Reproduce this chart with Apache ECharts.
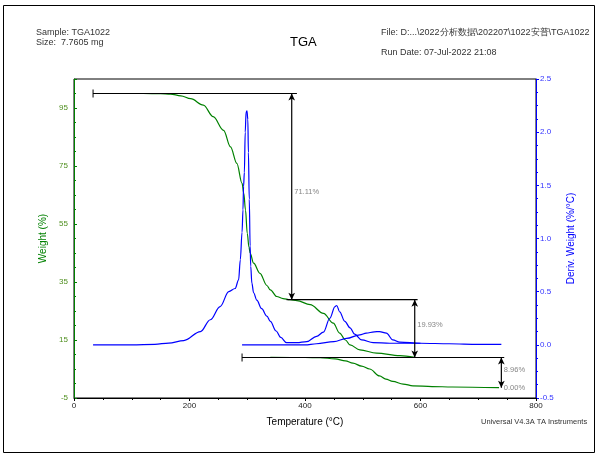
<!DOCTYPE html>
<html>
<head>
<meta charset="utf-8">
<script src="https://cdn.jsdelivr.net/npm/echarts@6/dist/echarts.min.js"></script>
<style>
  html, body { margin: 0; padding: 0; background: #fff; }
  #chart { width: 598px; height: 457px; }
</style>
</head>
<body>
<div id="chart"></div>
<script>
// weight curve, first run (temperature °C / weight %)
const weightTemp1 = [33, 120, 150, 167, 185, 202, 224, 241, 259, 271, 282, 291, 294, 297, 300, 303, 305, 311, 322, 334, 340, 351, 362, 374, 386, 409, 432, 449, 460, 470, 478, 495, 524, 564, 590];
const weightVal1  = [100, 100, 99.95, 99.8, 99.2, 98.2, 96, 92, 87.3, 81.6, 75.9, 69, 65.6, 59.8, 51.8, 47, 45, 41.5, 38, 33.8, 32.3, 30, 29.3, 28.9, 28.6, 27.2, 24.2, 20.8, 17.4, 15, 13.3, 11.6, 10.5, 9.6, 9.0];

// weight curve, second run
const weightTemp2 = [340, 400, 426, 452, 470, 483, 498, 512, 529, 540, 552, 570, 587, 620, 655, 736];
const weightVal2  = [9.0, 8.96, 8.9, 8.5, 7.8, 7.0, 6.0, 5.0, 2.6, 1.5, 0.7, -0.2, -0.8, -1.05, -1.2, -1.45];

// derivative curve, first run (%/°C)
const derivTemp1 = [33, 100, 140, 164, 190, 219, 236, 253, 268, 279, 285, 288, 291, 292.6, 293.6, 295, 296.5, 298, 299.5, 301, 302, 303.5, 305, 306, 308, 311, 316.5, 325, 334, 340, 350, 358, 368, 386, 403, 420, 432, 443, 452, 455, 460, 469, 478, 486, 498, 518, 547, 600];
const derivVal1  = [0, 0, 0.005, 0.016, 0.04, 0.125, 0.236, 0.36, 0.5, 0.53, 0.61, 0.8, 1.06, 1.27, 1.49, 1.62, 2.0, 2.19, 2.2, 2.12, 1.81, 1.37, 0.93, 0.74, 0.58, 0.49, 0.42, 0.34, 0.27, 0.22, 0.13, 0.07, 0.02, 0.02, 0.03, 0.08, 0.12, 0.25, 0.36, 0.37, 0.31, 0.22, 0.16, 0.1, 0.047, 0.02, 0.015, 0.015];

// derivative curve, second run
const derivTemp2 = [291, 400, 420, 450, 472, 495, 506, 520, 529, 541, 552, 564, 600, 650, 700, 740];
const derivVal2  = [0, 0, 0.01, 0.03, 0.06, 0.094, 0.11, 0.122, 0.125, 0.11, 0.047, 0.025, 0.015, 0.01, 0.005, 0.005];

// step analysis: horizontal levels and vertical measures
const stepLevels = [
  [[33, 100], [386, 100]],
  [[368, 28.89], [595, 28.89]],
  [[291, 8.96], [745, 8.96]]
];
const stepMeasures = [
  [[377, 100], [377, 28.89]],
  [[590, 28.89], [590, 8.96]],
  [[740, 8.96], [740, -1.45]]
];
const stepLabels = [
  [377, 66, '71.11%'],
  [590, 20.2, '19.93%'],
  [740, 4.7, '8.96%'],
  [740, -1.7, '0.00%']
];

const FONT = 'Liberation Sans, Arial, sans-serif';
const GREEN = '#008000';
const BLUE = '#0000ff';

const pairs = (xs, ys) => xs.map((x, i) => [x, ys[i]]);

const chart = echarts.init(document.getElementById('chart'));

function curve(name, yIdx, xs, ys, color) {
  return {
    name: name, type: 'line', xAxisIndex: 0, yAxisIndex: yIdx, data: pairs(xs, ys),
    showSymbol: false, smooth: 0.35, smoothMonotone: 'x',
    lineStyle: { color: color, width: 1.2 }, itemStyle: { color: color }
  };
}

const series = [
  curve('Weight', 0, weightTemp1, weightVal1, GREEN),
  curve('Weight 2', 0, weightTemp2, weightVal2, GREEN),
  curve('Deriv', 1, derivTemp1, derivVal1, BLUE),
  curve('Deriv 2', 1, derivTemp2, derivVal2, BLUE)
];

stepLevels.forEach((seg, i) => {
  series.push({
    type: 'line', yAxisIndex: 0, z: 5,
    data: [
      { value: seg[0], symbol: (i === 1 ? 'none' : 'rect'), symbolSize: [1, 8] },
      { value: seg[1], symbol: 'none' }
    ],
    lineStyle: { color: '#000', width: 1.2 }, itemStyle: { color: '#000' }
  });
});

stepMeasures.forEach(seg => {
  series.push({
    type: 'line', yAxisIndex: 0, z: 5,
    data: [
      { value: seg[0], symbol: 'arrow', symbolSize: [5, 7], symbolRotate: 0 },
      { value: seg[1], symbol: 'arrow', symbolSize: [5, 7], symbolRotate: 180 }
    ],
    lineStyle: { color: '#000', width: 1.2 }, itemStyle: { color: '#000' }
  });
});

series.push({
  type: 'scatter', yAxisIndex: 0, z: 6, symbolSize: 1,
  itemStyle: { color: 'rgba(0,0,0,0)' },
  data: stepLabels,
  label: { show: true, position: 'right', distance: 2, formatter: p => p.data[2],
    fontFamily: FONT, fontSize: 7.5, color: '#666' }
});

const option = {
  animation: false,
  backgroundColor: '#fff',
  grid: { left: 74, right: 62, top: 79, bottom: 59, show: true, borderColor: '#000', borderWidth: 1 },
  xAxis: [{
    type: 'value', min: 0, max: 800, interval: 200,
    name: 'Temperature (°C)', nameLocation: 'middle', nameGap: 19,
    nameTextStyle: { fontFamily: FONT, fontSize: 10, color: '#000' },
    axisLine: { onZero: false, lineStyle: { color: '#000', width: 1 } },
    axisTick: { show: true, inside: false, length: 3, lineStyle: { color: '#000' } },
    minorTick: { show: true, splitNumber: 4, length: 2, lineStyle: { color: '#000' } },
    axisLabel: { fontFamily: FONT, fontSize: 8, color: '#222', margin: 4 },
    splitLine: { show: false }
  }],
  yAxis: [{
    type: 'value', min: -5, max: 105, interval: 20, position: 'left',
    name: 'Weight (%)', nameLocation: 'middle', nameGap: 26,
    nameTextStyle: { fontFamily: FONT, fontSize: 10, color: GREEN },
    axisLine: { onZero: false, lineStyle: { color: GREEN, width: 1 } },
    axisTick: { show: true, inside: true, length: 3, lineStyle: { color: GREEN } },
    minorTick: { show: true, splitNumber: 4, length: 2, lineStyle: { color: GREEN } },
    axisLabel: { fontFamily: FONT, fontSize: 8, color: '#4f8f1f', margin: 6, showMaxLabel: false },
    splitLine: { show: false }
  }, {
    type: 'value', min: -0.5, max: 2.5, interval: 0.5, position: 'right',
    name: 'Deriv. Weight (%/°C)', nameLocation: 'middle', nameGap: 30,
    nameTextStyle: { fontFamily: FONT, fontSize: 10, color: BLUE },
    axisLine: { onZero: false, lineStyle: { color: BLUE, width: 1 } },
    axisTick: { show: true, inside: false, length: 3, lineStyle: { color: BLUE } },
    minorTick: { show: true, splitNumber: 4, length: 2, lineStyle: { color: BLUE } },
    axisLabel: { fontFamily: FONT, fontSize: 8, color: '#3333ff', margin: 4, formatter: v => v.toFixed(1) },
    splitLine: { show: false }
  }],
  graphic: [
    { type: 'rect', shape: { x: 3.5, y: 5.5, width: 591, height: 447 },
      style: { fill: 'none', stroke: '#000', lineWidth: 1 }, silent: true },
    { type: 'text', left: 36, top: 28, style: { text: 'Sample: TGA1022', font: '9px ' + FONT, fill: '#333' } },
    { type: 'text', left: 36, top: 38, style: { text: 'Size:  7.7605 mg', font: '9px ' + FONT, fill: '#333' } },
    { type: 'text', left: 290, top: 36, style: { text: 'TGA', font: '13px ' + FONT, fill: '#000' } },
    { type: 'text', left: 381, top: 28, style: { text: 'File: D:...\\2022分析数据\\202207\\1022安普\\TGA1022', font: '9px ' + FONT, fill: '#333' } },
    { type: 'text', left: 381, top: 48, style: { text: 'Run Date: 07-Jul-2022 21:08', font: '9px ' + FONT, fill: '#333' } },
    { type: 'text', left: 481, top: 418, style: { text: 'Universal V4.3A TA Instruments', font: '7.5px ' + FONT, fill: '#333' } }
  ],
  series: series
};

chart.setOption(option);
</script>
</body>
</html>
